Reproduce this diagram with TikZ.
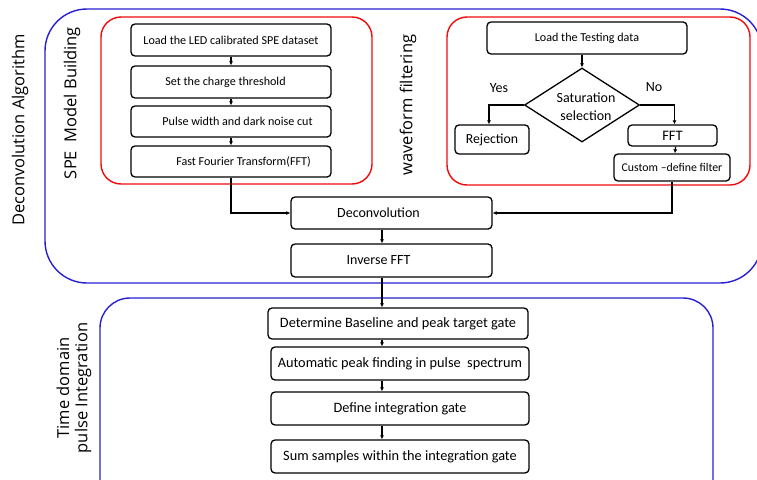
\documentclass[tikz,border=0pt]{standalone}
\usepackage{fontspec}
\setmainfont{Carlito}
\newfontfamily\labfont{Open Sans}
\usetikzlibrary{shapes.geometric,arrows.meta}
\definecolor{grpblue}{RGB}{40,30,210}
\definecolor{grpred}{RGB}{240,10,10}
\begin{document}
\begin{tikzpicture}[x=1pt,y=-1pt,
  box/.style={draw=black,line width=1.3pt,rounded corners=4pt,inner sep=0pt,font=\fontsize{12.1}{14}\selectfont},
  bbox/.style={box,font=\fontsize{14.3}{16}\selectfont},
  bluegrp/.style={draw=grpblue,line width=1.4pt},
  redgrp/.style={draw=grpred,line width=1.4pt,rounded corners=20pt},
  conn/.style={draw=black,line width=1.2pt,-{Latex[length=4pt,width=4pt]}},
  side/.style={font=\labfont\fontsize{16.5}{19}\selectfont,rotate=90,inner sep=0pt},
  lbl/.style={font=\fontsize{14}{16}\selectfont,inner sep=0pt}]
\useasboundingbox (0,0) rectangle (757,479);
% group frames
\draw[bluegrp,rounded corners=42pt] (45,9) rectangle (762,283);
\draw[bluegrp,rounded corners=30pt] (100,298) rectangle (713,515);
\draw[redgrp] (101,17) rectangle (372,184);
\draw[redgrp] (447,17) rectangle (750,185);
% side labels
\node[side] (ldec) at (20,130) {Deconvolution Algorithm};
\node[side] (lspe) at (72,103) {SPE\ \ Model Building};
\node[side] (lwav) at (408,105) {waveform filtering};
\node[side] (ltime) at (63,388) {Time domain};
\node[side] (lpulse) at (83,388) {pulse Integration};
% left column
\node[box,minimum width=200pt,minimum height=32pt] (b1) at (231,40) {Load the LED calibrated SPE dataset};
\node[box,minimum width=200pt,minimum height=32pt] (b2) at (231,82) {\hspace{-11pt}Set the charge threshold};
\node[box,minimum width=200pt,minimum height=31pt] (b3) at (231,121.5) {\hspace{13pt}Pulse width and dark noise cut};
\node[box,minimum width=200pt,minimum height=31pt] (b4) at (231,161.5) {\hspace{25pt}Fast Fourier Transform(FFT)};
\draw[conn] (b1) -- (b2);
\draw[conn] (b2) -- (b3);
\draw[conn] (b3) -- (b4);
% right column
\node[box,minimum width=200pt,minimum height=32pt] (load) at (587,38) {Load the Testing data};
\node[draw=black,line width=1.3pt,shape=diamond,minimum width=115pt,minimum height=74pt,inner sep=0pt] (dia) at (582,105) {};
\node[font=\fontsize{14}{18}\selectfont,align=center,inner sep=0pt] (diat) at (586,107) {Saturation\\selection};
\node[box,font=\fontsize{13.8}{16}\selectfont,minimum width=74pt,minimum height=29pt] (rej) at (492,139.5) {Rejection};
\node[box,font=\fontsize{14.5}{16}\selectfont,minimum width=89pt,minimum height=21pt] (fft) at (672.5,135.5) {FFT};
\node[box,font=\fontsize{11.8}{14}\selectfont,minimum width=116pt,minimum height=27pt] (cus) at (672,167.5) {Custom --define filter};
\node[lbl] (yes) at (499,88) {Yes};
\node[lbl] (no) at (654,87) {No};
\draw[conn] (dia.north |- load.south) -- (dia.north);
\draw[conn] (dia.west) -| ([xshift=-3pt]rej.north);
\draw[conn] (dia.east) -| ([xshift=2pt]fft.north);
\draw[conn] ([xshift=3pt]fft.south) -- ([xshift=3pt]cus.north);
% centre
\coordinate (ax) at (382,0);
\node[box,font=\fontsize{14}{16}\selectfont,minimum width=201pt,minimum height=32pt] (dec) at (391.5,213) {\hspace{-26pt}Deconvolution};
\node[box,font=\fontsize{14}{16}\selectfont,minimum width=201pt,minimum height=33pt] (inv) at (391.5,260.5) {\hspace{-26pt}Inverse FFT};
\draw[conn] (b4.south) |- (dec.west);
\draw[conn] (cus.south) |- (dec.east);
\draw[conn] (dec.south -| ax) -- (inv.north -| ax);
% bottom
\node[bbox,minimum width=260pt,minimum height=31pt] (d1) at (398,323.5) {Determine Baseline and peak target gate};
\node[bbox,minimum width=258pt,minimum height=33pt] (d2) at (400,363.5) {Automatic peak finding in pulse\ \ spectrum};
\node[bbox,minimum width=258pt,minimum height=33pt] (d3) at (400,408.5) {Define integration gate};
\node[bbox,minimum width=258pt,minimum height=33pt] (d4) at (400,456.5) {Sum samples within the integration gate};
\draw[conn] (inv.south -| ax) -- (d1.north -| ax);
\draw[conn] (d1.south -| ax) -- (d2.north -| ax);
\draw[conn] (d2.south -| ax) -- (d3.north -| ax);
\draw[conn] (d3.south -| ax) -- (d4.north -| ax);
\end{tikzpicture}
\end{document}
